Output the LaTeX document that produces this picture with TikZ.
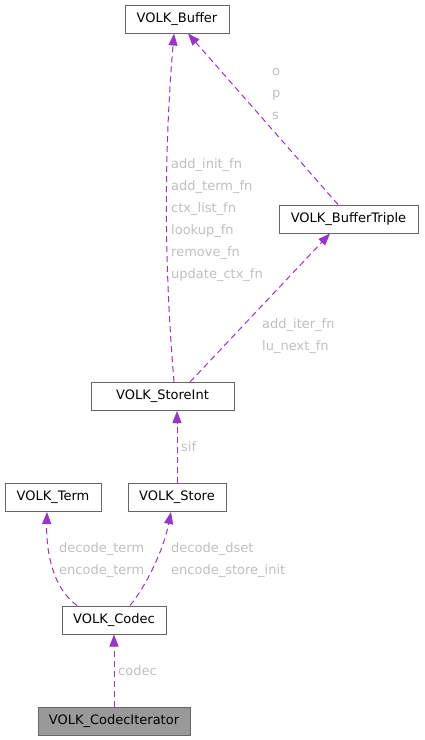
\documentclass[tikz,border=0pt]{standalone}
\usepackage{fontspec}
\setmainfont{DejaVu Sans}
\usetikzlibrary{arrows.meta}
\definecolor{edgepurple}{HTML}{9A32CD}
\definecolor{lblgray}{HTML}{C0C0C0}
\definecolor{boxgray}{HTML}{666666}
\definecolor{curfill}{HTML}{999999}

\begin{document}
\begin{tikzpicture}[
  x=1pt, y=-1pt,
  >={Triangle[length=12pt, width=9pt]},
  classbox/.style={
    draw=boxgray, line width=1pt, fill=white, minimum width=#1,
    minimum height=28pt, inner sep=0pt, text=black,
    font=\fontsize{13}{15}\selectfont
  },
  rel/.style={->, edgepurple, line width=1pt, dash pattern=on 6pt off 4pt},
  rellbl/.style={anchor=base west, inner sep=0pt, align=left, text=lblgray,
    font=\fontsize{13}{22}\selectfont},
]

% Background
\fill[white] (0,0) rectangle (424,740);
\useasboundingbox (0,0) rectangle (424,740);

% =============================================
% Classes
% =============================================
\node[classbox=104] (buffer) at (177,19) {VOLK\_Buffer};
\node[classbox=139] (buftriple) at (348.5,219) {VOLK\_BufferTriple};
\node[classbox=143] (storeint) at (162.5,396.5) {VOLK\_StoreInt};
\node[classbox=96] (term) at (53,497.5) {VOLK\_Term};
\node[classbox=98] (store) at (177,497.5) {VOLK\_Store};
\node[classbox=104] (codec) at (114,620) {VOLK\_Codec};
\node[classbox=152, fill=curfill] (codeciter) at (114,721) {VOLK\_CodecIterator};

% =============================================
% Usage relations
% =============================================
\draw[rel] ([xshift=11.5pt]storeint.north)
  .. controls +(-10,-120) and +(-10,120) .. ([xshift=-3pt]buffer.south);
\draw[rel] ([xshift=27.5pt]storeint.north) -- ([xshift=-18.5pt]buftriple.south);
\draw[rel] ([xshift=-10.5pt]buftriple.north) -- ([xshift=11pt]buffer.south);
\draw[rel] (store.north) -- (store.north |- storeint.south);
\draw[rel] ([xshift=-37pt]codec.north)
  .. controls +(-25,-18) and +(-1,38) .. ([xshift=-6pt]term.south);
\draw[rel] ([xshift=16pt]codec.north)
  .. controls +(15,-18) and +(-8,40) .. ([xshift=-6pt]store.south);
\draw[rel] (codeciter.north) -- (codec.south);

% Member labels (base = last line)
\node[rellbl] (lblinit) at (171,278)
  {add\_init\_fn\\add\_term\_fn\\ctx\_list\_fn\\lookup\_fn\\remove\_fn\\update\_ctx\_fn};
\node[rellbl] (lblops) at (272,119) {o\\p\\s};
\node[rellbl] (lbliter) at (262,350) {add\_iter\_fn\\lu\_next\_fn};
\node[rellbl] (lblsif) at (181,451) {sif};
\node[rellbl] (lblterm) at (59,574) {decode\_term\\encode\_term};
\node[rellbl] (lbldset) at (171,574) {decode\_dset\\encode\_store\_init};
\node[rellbl] (lblcodec) at (118,675) {codec};

\end{tikzpicture}
\end{document}
